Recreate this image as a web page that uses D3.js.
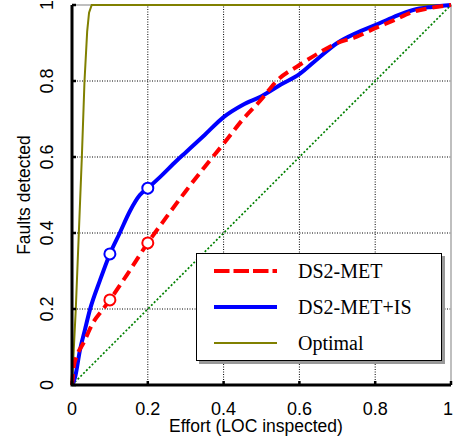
<!DOCTYPE html>
<html>
<head>
<meta charset="utf-8">
<script src="https://cdn.jsdelivr.net/npm/d3@7"></script>
<style>
  body { margin: 0; background: #fff; }
  svg { display: block; }
</style>
</head>
<body>
<div id="chart"></div>
<script>
// Data
const ticks = [0, 0.2, 0.4, 0.6, 0.8, 1];
const tickLabels = ["0", "0.2", "0.4", "0.6", "0.8", "1"];

const metX = [0, 0.005, 0.012, 0.03, 0.055, 0.08, 0.1, 0.145, 0.2, 0.25, 0.3, 0.35, 0.4, 0.45, 0.5, 0.54, 0.6, 0.65, 0.7, 0.75, 0.8, 0.85, 0.9, 0.95, 1];
const metY = [0, 0.05, 0.075, 0.11, 0.163, 0.197, 0.224, 0.29, 0.374, 0.443, 0.51, 0.574, 0.635, 0.698, 0.752, 0.8, 0.842, 0.873, 0.9, 0.916, 0.939, 0.96, 0.982, 0.993, 1];

const isX = [0, 0.008, 0.021, 0.034, 0.047, 0.074, 0.1, 0.126, 0.153, 0.179, 0.2, 0.232, 0.276, 0.3, 0.35, 0.4, 0.45, 0.5, 0.55, 0.6, 0.65, 0.7, 0.75, 0.8, 0.85, 0.9, 0.95, 1];
const isY = [0, 0.02, 0.092, 0.145, 0.197, 0.276, 0.345, 0.4, 0.458, 0.5, 0.518, 0.547, 0.59, 0.612, 0.658, 0.705, 0.737, 0.76, 0.79, 0.818, 0.86, 0.9, 0.926, 0.947, 0.969, 0.987, 0.995, 1];

const optX = [0, 0.01, 0.018, 0.026, 0.033, 0.04, 0.045, 0.052, 1];
const optY = [0, 0.2, 0.4, 0.6, 0.8, 0.93, 0.98, 1, 1];

const randX = [0, 1];
const randY = [0, 1];

// markers at 10% and 20% effort
const markX = [0.1, 0.2];
const metMarkY = [0.224, 0.374];
const isMarkY = [0.345, 0.518];

const legendNames = ["DS2-MET", "DS2-MET+IS", "Optimal"];

const W = 454, H = 443;
const margin = { left: 72, right: 3, top: 5, bottom: 58 };

const svg = d3.select("#chart").append("svg").attr("width", W).attr("height", H);

const x = d3.scaleLinear().domain([0, 1]).range([margin.left, W - margin.right]);
const y = d3.scaleLinear().domain([0, 1]).range([H - margin.bottom, margin.top]);

const zip = (xs, ys) => xs.map((v, i) => [v, ys[i]]);
const line = d3.line().x(d => x(d[0])).y(d => y(d[1]));

// grid
const grid = svg.append("g");
ticks.slice(1, -1).forEach(t => {
  grid.append("line").attr("x1", x(t)).attr("x2", x(t)).attr("y1", y(0)).attr("y2", y(1))
    .attr("stroke", "#000").attr("stroke-width", 1).attr("stroke-dasharray", "1,1.5");
  grid.append("line").attr("y1", y(t)).attr("y2", y(t)).attr("x1", x(0)).attr("x2", x(1))
    .attr("stroke", "#000").attr("stroke-width", 1).attr("stroke-dasharray", "1,1.5");
});

// top / right frame
svg.append("path")
  .attr("d", `M${x(0)},${y(1)}H${x(1)}V${y(0)}`)
  .attr("fill", "none").attr("stroke", "#aaa").attr("stroke-width", 1.5);

// random (diagonal)
svg.append("path").datum(zip(randX, randY)).attr("d", line)
  .attr("fill", "none").attr("stroke", "#008000").attr("stroke-width", 1.7)
  .attr("stroke-dasharray", "2,2");

// optimal
svg.append("path").datum(zip(optX, optY)).attr("d", line)
  .attr("fill", "none").attr("stroke", "#808000").attr("stroke-width", 2);

// DS2-MET+IS
svg.append("path").datum(zip(isX, isY)).attr("d", line.curve(d3.curveMonotoneX))
  .attr("fill", "none").attr("stroke", "#0000ff").attr("stroke-width", 4);

// DS2-MET
svg.append("path").datum(zip(metX, metY)).attr("d", line.curve(d3.curveMonotoneX))
  .attr("fill", "none").attr("stroke", "#ff0000").attr("stroke-width", 4)
  .attr("stroke-dasharray", "11,6");

svg.selectAll("circle.is").data(zip(markX, isMarkY)).enter().append("circle")
  .attr("cx", d => x(d[0])).attr("cy", d => y(d[1])).attr("r", 5.5)
  .attr("fill", "#fff").attr("stroke", "#0000ff").attr("stroke-width", 2);
svg.selectAll("circle.met").data(zip(markX, metMarkY)).enter().append("circle")
  .attr("cx", d => x(d[0])).attr("cy", d => y(d[1])).attr("r", 5.5)
  .attr("fill", "#fff").attr("stroke", "#ff0000").attr("stroke-width", 2);

// axes (thick black left and bottom)
const axisFont = "'Liberation Sans', Arial, sans-serif";
svg.append("path")
  .attr("d", `M${x(0)},${y(1)}V${y(0)}H${x(1)}`)
  .attr("fill", "none").attr("stroke", "#000").attr("stroke-width", 3);

ticks.forEach((t, i) => {
  svg.append("line").attr("x1", x(t)).attr("x2", x(t)).attr("y1", y(0)).attr("y2", y(0) - 4)
    .attr("stroke", "#000").attr("stroke-width", 2.5);
  svg.append("line").attr("y1", y(t)).attr("y2", y(t)).attr("x1", x(0)).attr("x2", x(0) + 4)
    .attr("stroke", "#000").attr("stroke-width", 2.5);

  svg.append("text").attr("x", Math.min(x(t), 448)).attr("y", 415)
    .attr("text-anchor", "middle").attr("font-family", axisFont).attr("font-size", 18)
    .text(tickLabels[i]);
  svg.append("text")
    .attr("transform", `translate(53,${y(t)}) rotate(-90)`)
    .attr("text-anchor", "middle").attr("font-family", axisFont).attr("font-size", 18)
    .text(tickLabels[i]);
});

svg.append("text").attr("x", 256).attr("y", 432)
  .attr("text-anchor", "middle").attr("font-family", axisFont).attr("font-size", 17.5)
  .text("Effort (LOC inspected)");
svg.append("text")
  .attr("transform", `translate(30,${(y(0) + y(1)) / 2}) rotate(-90)`)
  .attr("text-anchor", "middle").attr("font-family", axisFont).attr("font-size", 17.5)
  .text("Faults detected");

// legend
const lg = svg.append("g");
lg.append("rect").attr("x", 199).attr("y", 256).attr("width", 246).attr("height", 108).attr("fill", "#999");
lg.append("rect").attr("x", 196.5).attr("y", 253.5).attr("width", 245).attr("height", 107)
  .attr("fill", "#fff").attr("stroke", "#000").attr("stroke-width", 1);
const legendStyle = [
  { color: "#ff0000", width: 4, dash: "15.5,4" },
  { color: "#0000ff", width: 4, dash: null },
  { color: "#808000", width: 2, dash: null }
];
legendNames.forEach((name, i) => {
  const ly = 271 + i * 36;
  lg.append("line").attr("x1", 214).attr("x2", 277).attr("y1", ly).attr("y2", ly)
    .attr("stroke", legendStyle[i].color).attr("stroke-width", legendStyle[i].width)
    .attr("stroke-dasharray", legendStyle[i].dash);
  lg.append("text").attr("x", 298).attr("y", ly + 7)
    .attr("font-family", "'Liberation Serif', 'Times New Roman', serif").attr("font-size", 20)
    .text(name);
});
</script>
</body>
</html>
